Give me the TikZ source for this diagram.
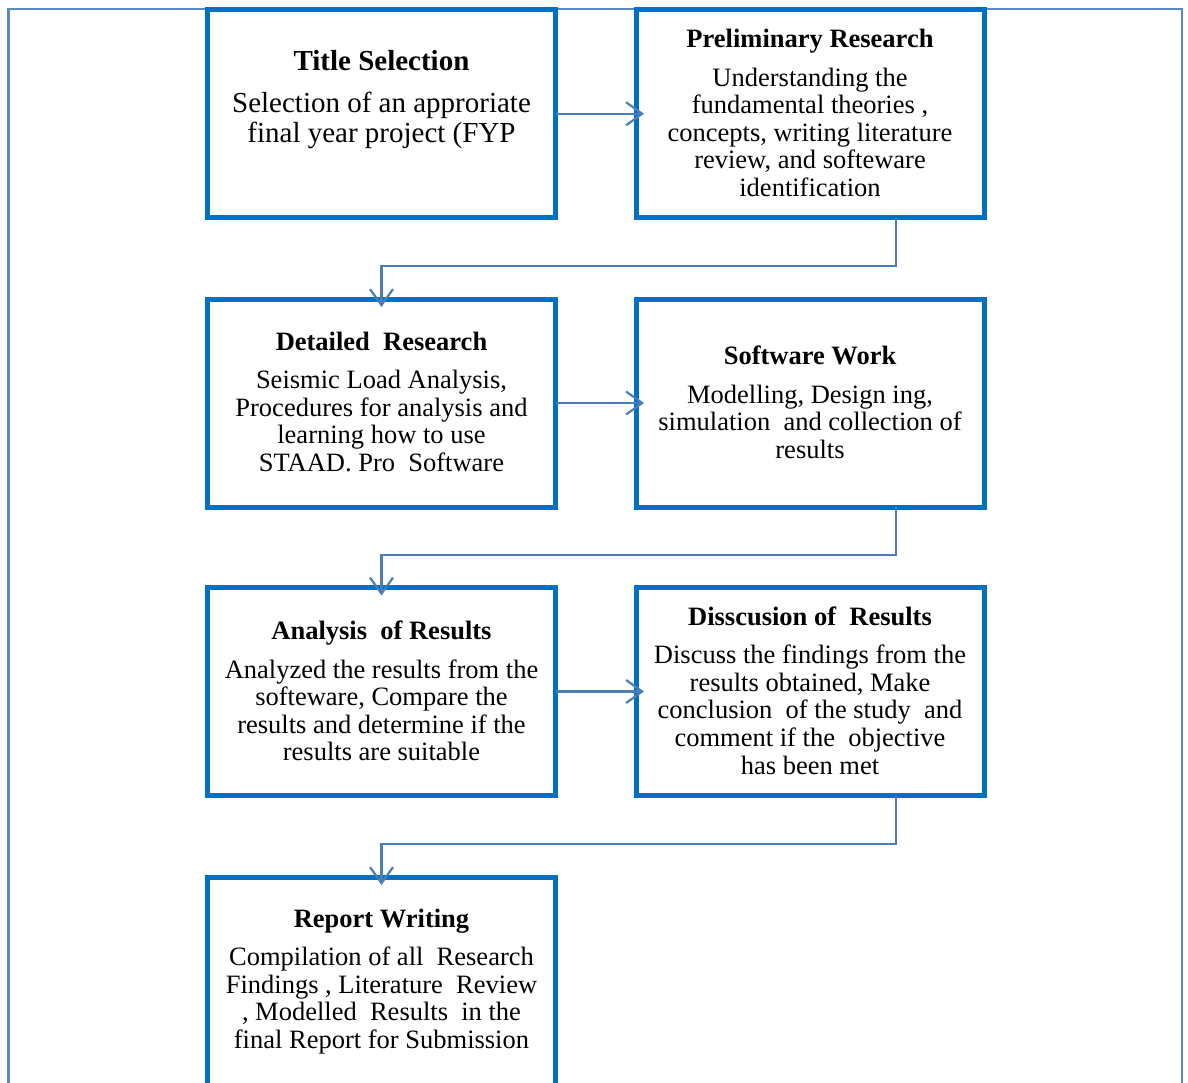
\documentclass[tikz,border=0pt]{standalone}
\usepackage{fontspec}
\setmainfont{Liberation Serif}
\usetikzlibrary{arrows.meta,calc}
\definecolor{boxblue}{HTML}{0070C0}
\definecolor{linkblue}{HTML}{4A7EBB}
\definecolor{frameblue}{HTML}{5A8AC6}
\begin{document}
\begin{tikzpicture}[x=1pt,y=-1pt,
  stepbox/.style={draw=boxblue, line width=5pt, rectangle, inner sep=0pt, outer sep=0pt,
    minimum width=348pt, minimum height=208pt},
  headtext/.style={anchor=base, inner sep=0pt, font=\fontsize{26.5}{27.6}\selectfont\bfseries},
  bodytext/.style={anchor=base, inner sep=0pt, align=center, font=\fontsize{26.5}{27.6}\selectfont},
  bighead/.style={headtext, font=\fontsize{29}{30}\selectfont\bfseries},
  bigbody/.style={bodytext, font=\fontsize{29}{30}\selectfont},
  link/.style={draw=linkblue, line width=2.2pt, shorten >=-8pt,
    -{Straight Barb[length=16pt,width=23pt,line width=2.2pt]}}]
\useasboundingbox (0,0) rectangle (1188,1082);
\clip (0,0) rectangle (1188,1082);

% page frame
\draw[frameblue, line width=2.5pt] (8.5,1100) -- (8.5,9) -- (1182,9) -- (1182,1100);

% process boxes
\node[stepbox] (title)  at (381.5,113.75) {};
\node[stepbox] (prelim) at (810,113.75) {};
\node[stepbox] (detail) at (381.5,403) {};
\node[stepbox] (soft)   at (810,403) {};
\node[stepbox] (anal)   at (381.5,691.5) {};
\node[stepbox] (disc)   at (810,691.5) {};
\node[stepbox] (report) at (381.5,981) {};

% box texts (body nodes sit on the baseline of their last line)
\node[bighead] (titleH) at (381.5,70) {Title Selection};
\node[bigbody] (titleB) at (381.5,142.5) {Selection of an approriate\\final year project (FYP};

\node[headtext] (prelimH) at (810,47.5) {Preliminary Research};
\node[bodytext] (prelimB) at (810,196.5) {Understanding the\\fundamental theories ,\\concepts, writing literature\\review, and softeware\\identification};

\node[headtext] (detailH) at (381.5,350) {Detailed\ \ Research};
\node[bodytext] (detailB) at (381.5,471.5) {Seismic Load Analysis,\\Procedures for analysis and\\learning how to use\\STAAD. Pro\ \ Software};

\node[headtext] (softH) at (810,364) {Software Work};
\node[bodytext] (softB) at (810,458.5) {Modelling, Design ing,\\simulation\ \ and collection of\\results};

\node[headtext] (analH) at (381.5,639) {Analysis\ \ of Results};
\node[bodytext] (analB) at (381.5,760.8) {Analyzed the results from the\\softeware, Compare the\\results and determine if the\\results are suitable};

\node[headtext] (discH) at (810,625.8) {Disscusion of\ \ Results};
\node[bodytext] (discB) at (810,774) {Discuss the findings from the\\results obtained, Make\\conclusion\ \ of the study\ \ and\\comment if the\ \ objective\\has been met};

\node[headtext] (reportH) at (381.5,927.5) {Report Writing};
\node[bodytext] (reportB) at (381.5,1048.5) {Compilation of all\ \ Research\\Findings , Literature\ \ Review\\, Modelled\ \ Results\ \ in the\\final Report for Submission};

% connectors
\coordinate (drop1) at ($(prelim.south west)!0.747!(prelim.south east)$);
\coordinate (drop2) at ($(soft.south west)!0.747!(soft.south east)$);
\coordinate (drop3) at ($(disc.south west)!0.747!(disc.south east)$);

\draw[link] (title.east) -- (prelim.west);
\draw[link] (detail.east) -- (soft.west);
\draw[link] (anal.east) -- (disc.west);
\draw[link] (drop1) -- ++(0,48.5) -| (detail.north);
\draw[link] (drop2) -- ++(0,48) -| (anal.north);
\draw[link] (drop3) -- ++(0,48.5) -| (report.north);
\end{tikzpicture}
\end{document}
